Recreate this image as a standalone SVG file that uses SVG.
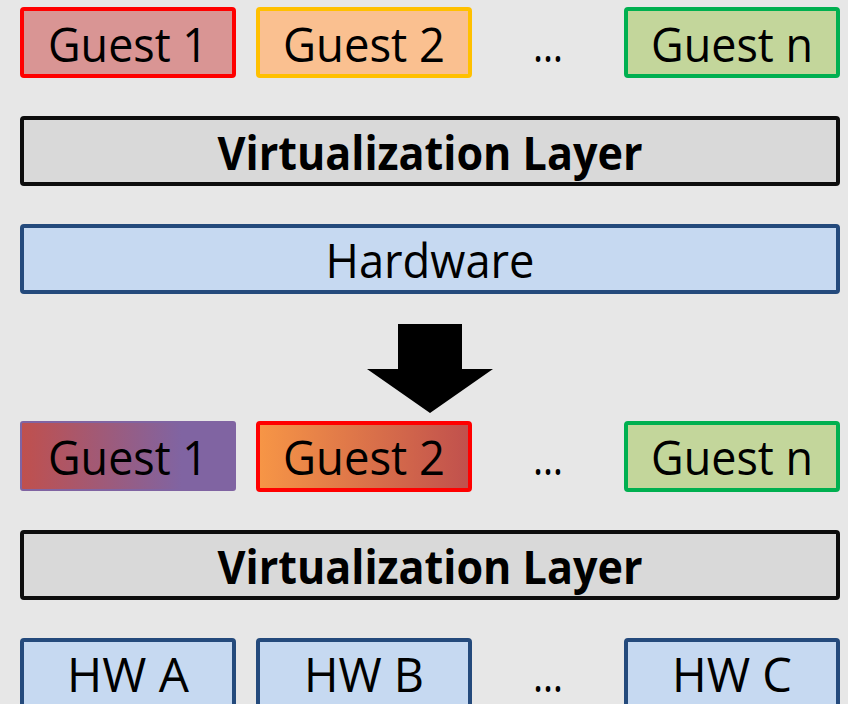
<svg xmlns="http://www.w3.org/2000/svg" width="848" height="704" viewBox="0 0 848 704">
  <defs>
    <linearGradient id="gradG1" x1="0" y1="0" x2="1" y2="0">
      <stop offset="0" stop-color="#C0504D"/>
      <stop offset="0.75" stop-color="#8064A2"/>
      <stop offset="1" stop-color="#8064A2"/>
    </linearGradient>
    <linearGradient id="gradG2" x1="0" y1="0" x2="1" y2="0">
      <stop offset="0" stop-color="#F79646"/>
      <stop offset="1" stop-color="#C0504D"/>
    </linearGradient>
  </defs>
  <style>
    .t { font-family: "Open Sans", "Liberation Sans", sans-serif; font-size: 47px; fill: #000; text-anchor: middle; }
    .b { font-weight: bold; }
    .virt { fill: #D9D9D9; stroke: #0D0D0D; stroke-width: 4; }
    .hw { fill: #C6D9F1; stroke: #244A7C; stroke-width: 4; }
  </style>
  <rect width="848" height="704" fill="#E7E7E7"/>

  <!-- upper configuration -->
  <g id="guest1-top">
    <rect x="22" y="9" width="212" height="67" rx="2" fill="#D99594" stroke="#FF0000" stroke-width="4"/>
    <text class="t" x="128" y="62" textLength="160" lengthAdjust="spacingAndGlyphs">Guest 1</text>
  </g>
  <g id="guest2-top">
    <rect x="258" y="9" width="212" height="67" rx="2" fill="#FAC090" stroke="#FFC000" stroke-width="4"/>
    <text class="t" x="364" y="62" textLength="162" lengthAdjust="spacingAndGlyphs">Guest 2</text>
  </g>
  <g id="dots-top">
    <text class="t" x="548" y="62" textLength="30" lengthAdjust="spacingAndGlyphs">…</text>
  </g>
  <g id="guestn-top">
    <rect x="626" y="9" width="212" height="67" rx="2" fill="#C3D69B" stroke="#00B050" stroke-width="4"/>
    <text class="t" x="732" y="62" textLength="162" lengthAdjust="spacingAndGlyphs">Guest n</text>
  </g>
  <g id="virt-top">
    <rect x="22" y="118" width="816" height="66" rx="2" class="virt"/>
    <text class="t b" x="430" y="170" textLength="425" lengthAdjust="spacingAndGlyphs">Virtualization Layer</text>
  </g>
  <g id="hardware">
    <rect x="22" y="226" width="816" height="66" rx="2" class="hw"/>
    <text class="t" x="430" y="278" textLength="209" lengthAdjust="spacingAndGlyphs">Hardware</text>
  </g>

  <!-- transition arrow -->
  <g id="connectors">
    <polygon points="398,324 462,324 462,369 493,369 430,413 367,369 398,369" fill="#000"/>
  </g>

  <!-- lower configuration -->
  <g id="guest1-bottom">
    <rect x="21" y="422" width="214" height="68" rx="2" fill="url(#gradG1)" stroke="#8064A2" stroke-width="2"/>
    <text class="t" x="128" y="475" textLength="160" lengthAdjust="spacingAndGlyphs">Guest 1</text>
  </g>
  <g id="guest2-bottom">
    <rect x="258" y="423" width="212" height="67" rx="2" fill="url(#gradG2)" stroke="#FF0000" stroke-width="4"/>
    <text class="t" x="364" y="475" textLength="162" lengthAdjust="spacingAndGlyphs">Guest 2</text>
  </g>
  <g id="dots-bottom">
    <text class="t" x="548" y="475" textLength="30" lengthAdjust="spacingAndGlyphs">…</text>
  </g>
  <g id="guestn-bottom">
    <rect x="626" y="423" width="212" height="67" rx="2" fill="#C3D69B" stroke="#00B050" stroke-width="4"/>
    <text class="t" x="732" y="475" textLength="162" lengthAdjust="spacingAndGlyphs">Guest n</text>
  </g>
  <g id="virt-bottom">
    <rect x="22" y="532" width="816" height="66" rx="2" class="virt"/>
    <text class="t b" x="430" y="584" textLength="425" lengthAdjust="spacingAndGlyphs">Virtualization Layer</text>
  </g>
  <g id="hw-a">
    <rect x="22" y="640" width="212" height="80" rx="2" class="hw"/>
    <text class="t" x="128" y="692" textLength="122" lengthAdjust="spacingAndGlyphs">HW A</text>
  </g>
  <g id="hw-b">
    <rect x="258" y="640" width="212" height="80" rx="2" class="hw"/>
    <text class="t" x="364" y="692" textLength="120" lengthAdjust="spacingAndGlyphs">HW B</text>
  </g>
  <g id="dots-hw">
    <text class="t" x="548" y="692" textLength="30" lengthAdjust="spacingAndGlyphs">…</text>
  </g>
  <g id="hw-c">
    <rect x="626" y="640" width="212" height="80" rx="2" class="hw"/>
    <text class="t" x="732" y="692" textLength="120" lengthAdjust="spacingAndGlyphs">HW C</text>
  </g>
</svg>
